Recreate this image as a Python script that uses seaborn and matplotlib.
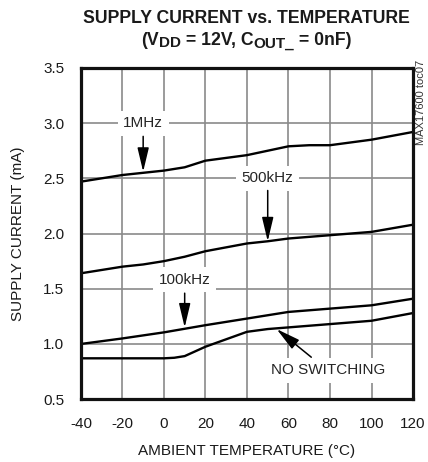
import numpy as np
import pandas as pd
import matplotlib
matplotlib.use("Agg")
import matplotlib.pyplot as plt
import seaborn as sns

# values
temp_1mhz = [-40, -20, -10, 0, 10, 20, 40, 50, 60, 70, 80, 100, 120]
curr_1mhz = [2.47, 2.53, 2.55, 2.57, 2.60, 2.66, 2.71, 2.75, 2.79, 2.80, 2.80, 2.85, 2.92]

temp_500k = [-40, -20, -10, 0, 10, 20, 40, 50, 60, 80, 100, 120]
curr_500k = [1.64, 1.70, 1.72, 1.75, 1.79, 1.84, 1.91, 1.93, 1.955, 1.985, 2.015, 2.08]

temp_100k = [-40, -20, 0, 20, 40, 60, 80, 100, 120]
curr_100k = [1.00, 1.05, 1.105, 1.17, 1.23, 1.29, 1.32, 1.35, 1.41]

temp_nosw = [-40, -20, 0, 5, 10, 20, 40, 50, 60, 80, 100, 120]
curr_nosw = [0.87, 0.87, 0.87, 0.875, 0.89, 0.975, 1.11, 1.135, 1.15, 1.18, 1.21, 1.28]

x_ticks = [-40, -20, 0, 20, 40, 60, 80, 100, 120]
y_ticks = [0.5, 1.0, 1.5, 2.0, 2.5, 3.0, 3.5]

frames = []
for name, t, c in [("1MHz", temp_1mhz, curr_1mhz), ("500kHz", temp_500k, curr_500k),
                   ("100kHz", temp_100k, curr_100k), ("NO SWITCHING", temp_nosw, curr_nosw)]:
    frames.append(pd.DataFrame({"temp": t, "current": c, "series": name}))
df = pd.concat(frames, ignore_index=True)

sns.set_style("white")
plt.rcParams["font.family"] = ["Liberation Sans", "DejaVu Sans"]

fig = plt.figure(figsize=(4.28, 4.62), dpi=100)
ax = fig.add_axes([0.189, 0.136, 0.776, 0.717])

sns.lineplot(data=df, x="temp", y="current", units="series", estimator=None,
             color="black", linewidth=1.7, ax=ax, legend=False, zorder=3)

ax.set_xlim(-40, 120)
ax.set_ylim(0.5, 3.5)
ax.set_xticks(x_ticks)
ax.set_yticks(y_ticks)
ax.set_xticklabels([str(v) for v in x_ticks])
ax.set_yticklabels([f"{v:.1f}" for v in y_ticks])
ax.grid(True, color="#8a8a8a", linewidth=1.2)
ax.set_axisbelow(True)
ax.tick_params(axis="x", length=0, labelsize=11, pad=12.5, colors="#1a1a1a")
ax.tick_params(axis="y", length=0, labelsize=11, pad=12, colors="#1a1a1a")
for s in ax.spines.values():
    s.set_linewidth(2.3)
    s.set_color("#111111")
    s.set_zorder(5)

ax.set_xlabel("AMBIENT TEMPERATURE (°C)", fontsize=11, labelpad=9.5, color="#1a1a1a")
ax.set_ylabel("SUPPLY CURRENT (mA)", fontsize=11, labelpad=13, color="#1a1a1a")

fig.text(0.575, 0.961, "SUPPLY CURRENT vs. TEMPERATURE", ha="center", va="center",
         fontsize=12.7, fontweight="bold", color="#1a1a1a")

# second title line with subscripts, built piece by piece
pieces = [("(V", 12.7, 0), ("DD", 11, -2.5), (" = 12V, C", 12.7, 0), ("OUT_", 11, -2.5), (" = 0nF)", 12.7, 0)]
renderer = fig.canvas.get_renderer()
base_y = 0.903
texts = []
x = 0.0
for s, size, dy in pieces:
    t = fig.text(x, base_y + dy / 462, s, ha="left", va="baseline", fontsize=size,
                 fontweight="bold", color="#1a1a1a")
    w = t.get_window_extent(renderer).width / fig.bbox.width
    texts.append((t, x))
    x += w
shift = 0.575 - x / 2
for t, x0 in texts:
    t.set_x(x0 + shift)

fig.text(0.983, 0.870, "MAX17600 toc07", rotation=90, ha="center", va="top",
         fontsize=8, color="#333333")

box = dict(facecolor="white", edgecolor="none", pad=4)
arrow = dict(arrowstyle="-|>,head_length=1.05,head_width=0.25", color="black",
             lw=1.1, mutation_scale=14, shrinkA=0, shrinkB=0)

ax.text(-10, 3.0, "1MHz", ha="center", va="center", fontsize=11, bbox=box, zorder=4)
ax.annotate("", xy=(-10, 2.56), xytext=(-10, 2.88), arrowprops=arrow, zorder=4)

ax.text(50, 2.5, "500kHz", ha="center", va="center", fontsize=11, bbox=box, zorder=4)
ax.annotate("", xy=(50, 1.93), xytext=(50, 2.39), arrowprops=arrow, zorder=4)

ax.text(10, 1.58, "100kHz", ha="center", va="center", fontsize=11, bbox=box, zorder=4)
ax.annotate("", xy=(10, 1.15), xytext=(10, 1.46), arrowprops=arrow, zorder=4)

ax.text(79, 0.76, "NO SWITCHING", ha="center", va="center", fontsize=11, bbox=box, zorder=4)
ax.annotate("", xy=(54.3, 1.135), xytext=(71, 0.88), arrowprops=arrow, zorder=4)

fig.savefig("out.png", dpi=100)
